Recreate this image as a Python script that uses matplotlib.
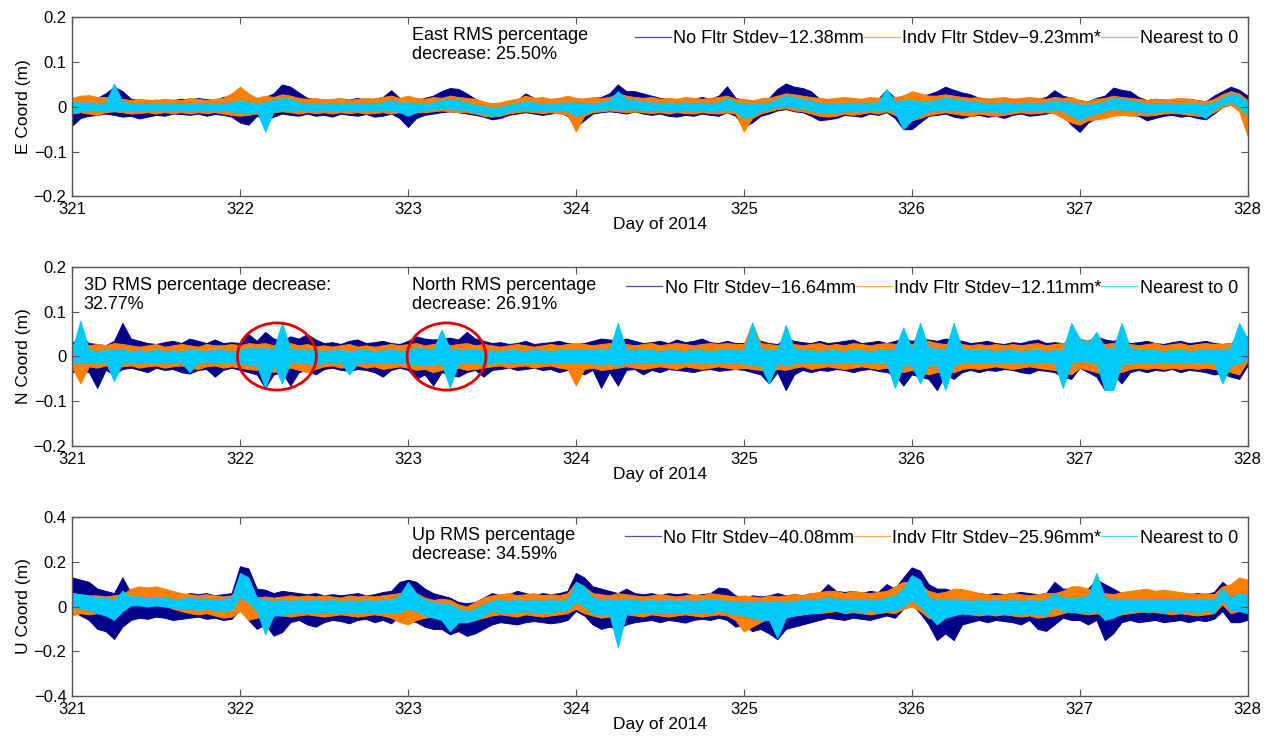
import numpy as np
import matplotlib
matplotlib.use("Agg")
import matplotlib.pyplot as plt
from matplotlib.patches import Ellipse
from matplotlib.lines import Line2D
from matplotlib.ticker import FuncFormatter

plt.rcParams['font.family'] = ['Liberation Sans', 'DejaVu Sans']

# time bins, 0.05 day; each series is stored as per-bin max / min (mm)
step = 0.05
days = np.round(np.arange(321, 328 + step / 2, step), 3)

# ---------------- East ----------------
e_nof_hi = [15, 22, 18, 20, 30, 45, 35, 18, 15, 14, 16, 14, 15, 18, 16, 20, 17, 15, 22, 25,
            20, 18, 15, 22, 30, 50, 45, 32, 20, 18, 16, 15, 18, 16, 20, 15, 18, 22, 37, 20,
            18, 15, 20, 25, 35, 42, 40, 30, 18, 10, 5, 8, 12, 15, 30, 20, 18, 16, 20, 18,
            15, 18, 20, 22, 30, 50, 35, 35, 30, 25, 20, 18, 15, 20, 18, 22, 18, 25, 46, 20,
            15, 12, 18, 20, 40, 52, 45, 42, 35, 18, 15, 12, 15, 18, 16, 20, 18, 38, 20, 25,
            30, 25, 28, 35, 45, 38, 32, 28, 20, 18, 15, 16, 18, 15, 20, 18, 22, 37, 25, 20,
            15, 12, 20, 25, 43, 38, 35, 22, 15, 18, 16, 15, 14, 18, 15, 12, 25, 35, 45, 38,
            25]
e_nof_lo = [-42, -25, -20, -18, -15, -18, -22, -20, -26, -22, -18, -20, -15, -16, -18, -15, -20, -16, -18, -22,
            -35, -40, -20, -30, -22, -15, -18, -20, -15, -20, -18, -22, -15, -18, -20, -16, -22, -20, -15, -25,
            -45, -25, -18, -15, -12, -10, -12, -15, -18, -22, -28, -25, -18, -15, -12, -15, -18, -15, -12, -20,
            -45, -30, -15, -12, -10, -12, -15, -10, -15, -18, -15, -20, -22, -18, -20, -15, -18, -20, -12, -20,
            -45, -35, -20, -15, -8, -5, -10, -12, -20, -30, -28, -25, -18, -20, -22, -15, -18, -12, -25, -50,
            -50, -35, -20, -18, -15, -22, -25, -20, -18, -22, -20, -25, -18, -15, -20, -18, -15, -12, -20, -40,
            -56, -35, -25, -18, -12, -15, -18, -20, -30, -25, -20, -18, -22, -20, -25, -28, -15, 0, 5, -5,
            -30]
e_ind_hi = [20, 25, 26, 22, 22, 20, 18, 15, 18, 16, 15, 18, 16, 15, 20, 18, 15, 18, 20, 30,
            45, 30, 20, 25, 22, 28, 25, 20, 18, 20, 16, 18, 20, 15, 18, 20, 18, 22, 25, 20,
            25, 20, 18, 22, 20, 25, 22, 20, 18, 12, 8, 10, 15, 18, 25, 20, 22, 18, 20, 25,
            20, 18, 22, 20, 22, 30, 25, 22, 20, 22, 18, 20, 18, 22, 20, 18, 20, 22, 25, 18,
            18, 15, 18, 20, 25, 30, 28, 25, 22, 20, 18, 20, 22, 20, 18, 22, 20, 25, 22, 25,
            35, 30, 25, 25, 28, 25, 22, 20, 22, 18, 20, 22, 18, 20, 22, 20, 18, 22, 20, 22,
            15, 12, 18, 20, 25, 22, 20, 18, 15, 18, 16, 18, 20, 18, 15, 12, 18, 28, 35, 30,
            15]
e_ind_lo = [-15, -12, -15, -18, -12, -10, -12, -15, -14, -12, -15, -12, -14, -12, -15, -12, -14, -12, -15, -18,
            -20, -18, -15, -15, -12, -10, -12, -15, -12, -14, -12, -15, -12, -14, -12, -15, -14, -12, -15, -12,
            -15, -12, -12, -10, -8, -10, -12, -12, -15, -20, -22, -20, -15, -12, -10, -12, -14, -12, -15, -18,
            -55, -20, -12, -10, -8, -10, -12, -10, -12, -14, -12, -15, -12, -14, -15, -12, -14, -15, -12, -15,
            -55, -25, -15, -10, -5, -3, -8, -10, -15, -20, -22, -20, -15, -18, -15, -12, -15, -10, -18, -30,
            -30, -25, -18, -15, -12, -15, -18, -20, -15, -18, -20, -18, -15, -12, -15, -14, -12, -15, -25, -35,
            -40, -30, -28, -25, -20, -18, -20, -18, -20, -18, -15, -14, -15, -18, -20, -22, -12, 0, 5, -10,
            -65]
e_nz_hi = [12, 10, 10, 8, 10, 52, 12, 8, 8, 7, 8, 7, 8, 8, 7, 8, 8, 7, 8, 10,
           15, 10, 8, 10, 15, 20, 18, 10, 8, 8, 7, 8, 8, 7, 8, 8, 8, 10, 15, 10,
           10, 8, 8, 10, 15, 18, 15, 10, 5, 2, -2, 0, 5, 8, 12, 10, 8, 7, 8, 10,
           10, 8, 8, 10, 15, 35, 18, 15, 12, 10, 8, 10, 8, 10, 8, 10, 8, 10, 20, 10,
           8, 6, 8, 10, 18, 25, 22, 18, 14, 8, 6, 8, 8, 10, 8, 10, 10, 40, 12, 15,
           15, 12, 12, 15, 20, 18, 15, 12, 10, 8, 8, 10, 8, 8, 10, 8, 10, 15, 12, 10,
           5, 5, 8, 12, 20, 18, 15, 10, 8, 8, 8, 7, 8, 8, 6, 5, 10, 20, 30, 25,
           10]
e_nz_lo = [-12, -10, -8, -8, -7, -8, -8, -10, -9, -8, -8, -7, -8, -8, -9, -8, -8, -7, -8, -10,
           -12, -15, -10, -55, -10, -8, -8, -8, -7, -8, -8, -9, -8, -8, -7, -8, -8, -8, -8, -12,
           -20, -12, -8, -6, -4, -4, -6, -8, -12, -16, -20, -18, -10, -8, -6, -8, -8, -7, -8, -10,
           -20, -15, -8, -6, -5, -6, -6, -5, -8, -8, -8, -10, -10, -8, -10, -8, -10, -10, -6, -10,
           -25, -20, -10, -6, 0, 2, -2, -4, -8, -14, -14, -12, -10, -10, -10, -8, -8, -6, -12, -50,
           -30, -20, -10, -8, -6, -8, -10, -10, -10, -10, -10, -12, -10, -8, -8, -8, -7, -6, -10, -20,
           -30, -20, -14, -10, -5, -6, -8, -10, -12, -12, -10, -10, -12, -12, -15, -25, -6, 5, 10, 0,
           -20]

# ---------------- North ----------------
n_nof_hi = [30, 45, 30, 28, 25, 35, 75, 40, 35, 30, 28, 32, 35, 30, 40, 35, 30, 38, 30, 32,
            30, 50, 35, 55, 40, 35, 45, 40, 50, 38, 30, 32, 28, 35, 38, 30, 32, 35, 30, 28,
            35, 45, 40, 38, 40, 42, 38, 55, 40, 35, 30, 32, 28, 30, 35, 28, 30, 32, 35, 30,
            28, 30, 35, 40, 38, 35, 40, 35, 30, 32, 35, 30, 38, 32, 35, 40, 32, 30, 35, 30,
            30, 45, 35, 30, 28, 40, 35, 32, 30, 35, 30, 32, 35, 38, 30, 32, 35, 30, 35, 40,
            35, 40, 38, 35, 40, 38, 35, 30, 32, 35, 30, 28, 32, 30, 35, 38, 30, 32, 30, 35,
            40, 35, 45, 38, 35, 40, 30, 32, 35, 30, 28, 32, 35, 30, 32, 35, 30, 28, 30, 40,
            45]
n_nof_lo = [-35, -30, -35, -70, -30, -40, -28, -25, -30, -35, -25, -30, -28, -35, -38, -30, -28, -45, -30, -25,
            -30, -35, -40, -70, -40, -35, -65, -35, -30, -40, -28, -25, -30, -32, -28, -30, -35, -45, -30, -25,
            -30, -50, -40, -65, -35, -40, -45, -35, -30, -45, -30, -28, -25, -30, -28, -25, -30, -28, -35, -30,
            -35, -40, -30, -70, -35, -65, -30, -28, -40, -30, -35, -28, -30, -32, -35, -30, -28, -32, -30, -28,
            -30, -35, -40, -60, -35, -75, -40, -30, -35, -30, -32, -28, -30, -35, -30, -28, -32, -35, -40, -65,
            -40, -45, -50, -75, -40, -50, -35, -30, -35, -30, -32, -28, -30, -35, -38, -30, -32, -35, -45, -50,
            -25, -35, -45, -75, -40, -60, -35, -30, -35, -30, -32, -28, -35, -30, -32, -35, -40, -38, -45, -50,
            -20]
n_ind_hi = [28, 30, 25, 28, 25, 30, 28, 25, 22, 25, 28, 22, 25, 28, 25, 22, 28, 25, 25, 28,
            25, 30, 28, 30, 25, 28, 30, 25, 28, 22, 25, 22, 25, 28, 22, 25, 22, 25, 28, 25,
            28, 30, 25, 28, 30, 25, 28, 30, 25, 28, 25, 22, 25, 28, 25, 22, 25, 28, 25, 28,
            30, 28, 25, 28, 30, 25, 28, 25, 28, 30, 25, 28, 30, 28, 25, 28, 30, 28, 30, 28,
            28, 75, 30, 28, 25, 30, 28, 25, 28, 30, 25, 28, 25, 30, 28, 25, 28, 30, 28, 30,
            28, 30, 35, 30, 28, 30, 28, 25, 28, 25, 28, 25, 28, 25, 28, 30, 25, 28, 30, 35,
            40, 35, 30, 28, 30, 35, 28, 25, 28, 30, 25, 28, 30, 25, 28, 30, 28, 28, 30, 35,
            40]
n_ind_lo = [-25, -60, -22, -25, -20, -25, -22, -20, -25, -22, -20, -25, -22, -20, -25, -28, -22, -20, -25, -22,
            -25, -28, -30, -25, -35, -28, -25, -30, -35, -28, -22, -20, -25, -22, -20, -25, -22, -28, -25, -22,
            -25, -30, -28, -35, -30, -28, -25, -30, -28, -25, -22, -20, -25, -22, -20, -25, -22, -20, -25, -28,
            -65, -28, -25, -30, -28, -25, -22, -25, -28, -25, -22, -25, -28, -22, -25, -28, -25, -22, -25, -28,
            -25, -28, -30, -35, -28, -30, -25, -22, -28, -25, -22, -25, -28, -25, -22, -25, -28, -25, -30, -35,
            -30, -35, -40, -35, -30, -35, -28, -25, -28, -25, -22, -25, -28, -25, -22, -25, -28, -30, -35, -40,
            -25, -30, -35, -40, -30, -35, -28, -25, -28, -25, -28, -25, -28, -25, -28, -25, -28, -30, -35, -40,
            -10]
n_nz_hi = [15, 80, 15, 12, 15, 14, 15, 12, 14, 12, 15, 12, 14, 12, 15, 14, 12, 15, 14, 12,
           15, 20, 18, 20, 15, 75, 18, 15, 14, 15, 12, 14, 15, 12, 14, 15, 12, 14, 15, 12,
           15, 20, 18, 15, 60, 18, 15, 14, 15, 12, 14, 12, 15, 14, 12, 15, 14, 12, 15, 14,
           15, 14, 15, 18, 15, 75, 16, 14, 15, 14, 12, 15, 14, 12, 15, 14, 12, 15, 14, 15,
           15, 75, 18, 15, 14, 70, 18, 15, 14, 12, 15, 14, 12, 15, 14, 12, 15, 14, 18, 65,
           18, 75, 20, 18, 15, 75, 18, 15, 14, 15, 12, 14, 15, 12, 14, 15, 12, 14, 15, 75,
           40, 30, 55, 20, 18, 75, 20, 15, 14, 15, 12, 14, 15, 12, 14, 15, 14, 15, 20, 75,
           40]
n_nz_lo = [-15, -12, -14, -15, -12, -55, -14, -12, -15, -14, -12, -15, -14, -12, -35, -14, -12, -15, -14, -12,
           -15, -18, -20, -70, -18, -60, -15, -14, -15, -18, -15, -14, -12, -40, -15, -14, -12, -15, -14, -15,
           -15, -18, -20, -18, -15, -70, -15, -14, -15, -18, -14, -12, -15, -14, -12, -15, -14, -12, -15, -14,
           -15, -14, -15, -18, -15, -20, -15, -14, -12, -15, -14, -12, -15, -14, -12, -15, -14, -12, -15, -14,
           -15, -18, -20, -60, -15, -20, -15, -14, -12, -15, -14, -12, -15, -14, -12, -15, -14, -15, -70, -20,
           -20, -60, -18, -20, -75, -20, -15, -14, -15, -14, -12, -15, -14, -12, -15, -14, -12, -15, -70, -15,
           -10, -12, -15, -75, -75, -18, -15, -14, -15, -14, -12, -15, -14, -12, -15, -14, -15, -60, -20, -15,
           -5]

# ---------------- Up ----------------
u_nof_hi = [130, 120, 110, 80, 70, 60, 130, 60, 50, 55, 50, 60, 55, 50, 60, 55, 60, 50, 55, 60,
            180, 170, 80, 75, 60, 70, 65, 60, 55, 60, 50, 55, 50, 55, 60, 50, 55, 65, 70, 110,
            120, 110, 80, 60, 50, 40, 20, 15, 20, 40, 60, 50, 55, 70, 60, 50, 60, 55, 60, 70,
            150, 130, 90, 80, 70, 60, 80, 60, 55, 60, 50, 60, 55, 60, 50, 55, 60, 85, 80, 50,
            40, 50, 45, 50, 60, 50, 55, 50, 60, 60, 100, 70, 65, 70, 60, 70, 65, 100, 80, 130,
            175, 160, 100, 80, 80, 70, 70, 65, 60, 55, 60, 55, 60, 65, 60, 55, 60, 110, 80, 80,
            70, 80, 120, 100, 80, 60, 60, 55, 60, 55, 60, 55, 50, 55, 60, 55, 65, 110, 80, 60,
            60]
u_nof_lo = [-20, -40, -60, -100, -110, -145, -90, -60, -50, -55, -45, -50, -60, -55, -50, -45, -55, -50, -60, -55,
            -10, -60, -100, -80, -130, -115, -70, -60, -80, -90, -70, -60, -65, -75, -60, -55, -70, -60, -75, -40,
            -60, -70, -90, -100, -100, -124, -110, -131, -120, -100, -80, -70, -75, -80, -70, -65, -70, -75, -70, -60,
            -20, -40, -80, -100, -90, -100, -80, -70, -65, -60, -70, -60, -65, -72, -60, -55, -60, -50, -60, -90,
            -80, -110, -100, -120, -146, -100, -90, -80, -70, -60, -50, -55, -60, -50, -55, -60, -50, -40, -50, -10,
            10, -30, -80, -150, -120, -150, -80, -70, -60, -70, -60, -65, -70, -80, -60, -100, -109, -80, -50, -60,
            -60, -80, -60, -150, -120, -70, -60, -70, -65, -60, -70, -65, -60, -70, -60, -65, -55, -20, -70, -70,
            -60]
u_ind_hi = [60, 55, 50, 50, 45, 50, 55, 80, 90, 85, 90, 80, 70, 60, 55, 50, 55, 50, 45, 50,
            100, 80, 40, 45, 40, 45, 50, 45, 50, 45, 50, 45, 40, 50, 45, 50, 45, 50, 55, 60,
            70, 60, 40, 30, 35, 30, 10, 0, 20, 40, 50, 55, 60, 50, 55, 60, 50, 55, 50, 60,
            110, 90, 60, 55, 50, 60, 55, 50, 45, 50, 55, 50, 45, 50, 55, 50, 60, 55, 50, 45,
            50, 45, 40, 50, 45, 50, 55, 50, 60, 65, 70, 70, 60, 70, 65, 60, 65, 70, 90, 110,
            110, 100, 70, 60, 65, 80, 78, 70, 60, 55, 50, 55, 60, 55, 50, 55, 60, 60, 70, 90,
            90, 80, 70, 60, 55, 65, 70, 75, 80, 70, 75, 70, 65, 60, 55, 60, 55, 90, 100, 130,
            120]
u_ind_lo = [-40, -30, -35, -30, -30, -25, -20, 10, 15, 10, 15, 5, -10, -20, -30, -35, -30, -40, -50, -45,
            -20, -60, -50, -40, -35, -40, -45, -40, -35, -40, -45, -40, -35, -40, -45, -40, -35, -40, -50, -70,
            -80, -60, -50, -45, -50, -60, -70, -70, -60, -50, -40, -35, -40, -45, -35, -40, -45, -40, -35, -30,
            -10, -30, -40, -50, -45, -40, -35, -40, -45, -35, -40, -45, -40, -35, -40, -45, -40, -35, -40, -60,
            -112, -90, -70, -50, -60, -45, -40, -35, -30, -30, -25, -20, -30, -25, -30, -35, -30, -25, -30, -10,
            0, -20, -50, -60, -40, -35, -30, -35, -40, -35, -40, -35, -40, -45, -40, -50, -45, -40, -30, -20,
            -30, -35, -30, -40, -45, -35, -30, -25, -20, -25, -30, -35, -30, -35, -40, -35, -30, 10, -30, -20,
            -20]
u_nz_hi = [60, 55, 50, 40, 40, 30, 70, 45, 45, 40, 45, 40, 35, 35, 40, 35, 35, 30, 35, 40,
           150, 130, 40, 30, 25, 30, 25, 30, 25, 30, 25, 30, 25, 28, 25, 30, 25, 30, 30, 50,
           110, 60, 30, 20, 15, 10, -10, -20, -10, 10, 25, 30, 25, 30, 25, 30, 25, 30, 25, 30,
           110, 90, 40, 30, 35, 30, 35, 30, 25, 30, 25, 30, 25, 30, 25, 30, 35, 30, 25, 25,
           20, 20, 25, 20, 25, 20, 25, 30, 30, 35, 40, 35, 30, 35, 30, 35, 30, 40, 50, 80,
           140, 120, 40, 30, 35, 30, 30, 25, 30, 25, 30, 25, 30, 25, 30, 25, 30, 60, 40, 40,
           40, 50, 150, 40, 30, 35, 30, 35, 30, 35, 30, 35, 30, 35, 30, 35, 30, 80, 40, 60,
           50]
u_nz_lo = [0, -10, -15, -30, -40, -60, -20, 5, 5, 0, 5, 0, -5, -10, -10, -15, -10, -15, -20, -15,
           40, 20, -20, -124, -40, -40, -30, -25, -30, -25, -30, -25, -30, -25, -30, -25, -30, -28, -30, -25,
           -10, -20, -40, -50, -60, -110, -70, -70, -60, -40, -20, -25, -30, -25, -20, -25, -30, -25, -20, -15,
           20, 0, -30, -40, -35, -181, -35, -30, -25, -30, -25, -30, -25, -30, -25, -30, -25, -20, -25, -35,
           -40, -50, -60, -60, -140, -50, -40, -35, -30, -25, -20, -20, -25, -20, -25, -20, -25, -20, -15, 0,
           30, 0, -40, -80, -50, -40, -30, -35, -30, -35, -30, -35, -30, -35, -30, -35, -40, 0, -20, -25,
           -25, -30, -20, -60, -50, -30, -25, -20, -25, -20, -25, -20, -25, -20, -25, -20, -25, 30, -20, -20,
           -30]

legend_e = ['No Fltr Stdev\u221212.38mm', 'Indv Fltr Stdev\u22129.23mm*', 'Nearest to 0']
legend_n = ['No Fltr Stdev\u221216.64mm', 'Indv Fltr Stdev\u221212.11mm*', 'Nearest to 0']
legend_u = ['No Fltr Stdev\u221240.08mm', 'Indv Fltr Stdev\u221225.96mm*', 'Nearest to 0']
note_e = 'East RMS percentage\ndecrease: 25.50%'
note_n = 'North RMS percentage\ndecrease: 26.91%'
note_u = 'Up RMS percentage\ndecrease: 34.59%'
note_3d = '3D RMS percentage decrease:\n32.77%'
circle_days = [322.22, 323.23]

colors = ['#00008b', '#ff8000', '#00c8f8']


def fmt(v, pos):
    s = '%g' % round(v, 3)
    return s.replace('-', '\u2212')


fig = plt.figure(figsize=(12.73, 7.38), dpi=100)
panels = [
    ([0.0566, 0.734, 0.9234, 0.2425], (e_nof_hi, e_nof_lo, e_ind_hi, e_ind_lo, e_nz_hi, e_nz_lo),
     legend_e, note_e, 'E Coord (m)', 0.2, [-0.2, -0.1, 0, 0.1, 0.2]),
    ([0.0566, 0.3957, 0.9234, 0.2425], (n_nof_hi, n_nof_lo, n_ind_hi, n_ind_lo, n_nz_hi, n_nz_lo),
     legend_n, note_n, 'N Coord (m)', 0.2, [-0.2, -0.1, 0, 0.1, 0.2]),
    ([0.0566, 0.0569, 0.9234, 0.2425], (u_nof_hi, u_nof_lo, u_ind_hi, u_ind_lo, u_nz_hi, u_nz_lo),
     legend_u, note_u, 'U Coord (m)', 0.4, [-0.4, -0.2, 0, 0.2, 0.4]),
]

fs = 12.5
for k, (pos, series, labels, note, ylab, lim, yt) in enumerate(panels):
    ax = fig.add_axes(pos)
    for j in range(3):
        hi = np.array(series[2 * j]) / 1000.0
        lo = np.array(series[2 * j + 1]) / 1000.0
        # dense trace drawn as its per-bin spread
        ax.fill_between(days, lo, hi, color=colors[j], lw=0.7, edgecolor=colors[j])
    ax.set_xlim(321, 328)
    ax.set_ylim(-lim, lim)
    ax.set_xticks(range(321, 329))
    ax.set_yticks(yt)
    ax.yaxis.set_major_formatter(FuncFormatter(fmt))
    ax.tick_params(direction='in', top=True, right=True, length=5, labelsize=12,
                   color='#555555', pad=4)
    for sp in ax.spines.values():
        sp.set_color('#555555')
        sp.set_linewidth(1.0)
    ax.set_xlabel('Day of 2014', fontsize=fs, labelpad=0)
    ax.set_ylabel(ylab, fontsize=fs, labelpad=2)
    ax.text(0.289, 0.945, note, transform=ax.transAxes, fontsize=fs + 0.5, va='top', ha='left',
            linespacing=1.15)
    handles = [Line2D([], [], color=c, lw=0.9, alpha=0.7) for c in colors]
    ax.legend(handles, labels, loc='upper right', bbox_to_anchor=(1.001, 0.99), ncol=3,
              frameon=False, fontsize=fs + 0.5, handlelength=2.0, handletextpad=0.12,
              columnspacing=0.0, borderaxespad=0.2)
    if k == 1:
        ax.text(0.01, 0.945, note_3d, transform=ax.transAxes, fontsize=fs + 0.5, va='top',
                ha='left', linespacing=1.15)
        for d in circle_days:
            ax.add_patch(Ellipse((d, 0), 0.47, 0.15, fill=False, edgecolor='#e00000', lw=2,
                                 zorder=5))

fig.savefig('out.png', dpi=100)
